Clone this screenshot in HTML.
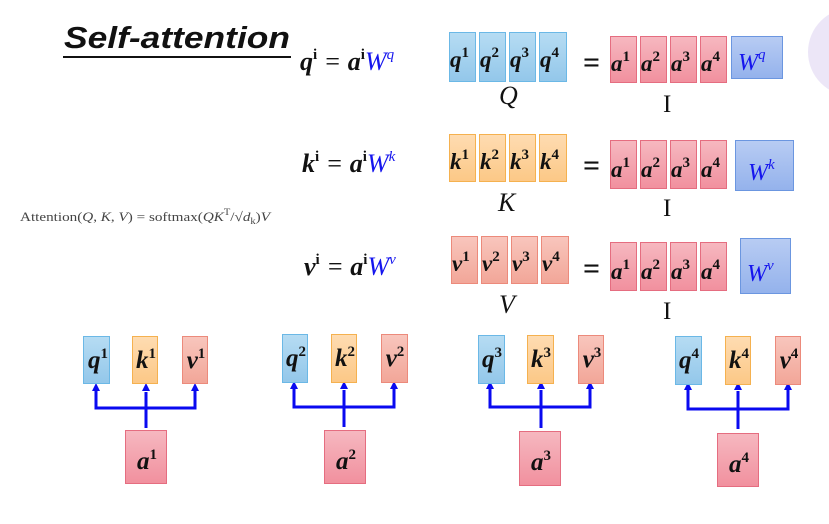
<!DOCTYPE html>
<html><head><meta charset="utf-8"><style>
body{margin:0;background:#fff;width:829px;height:519px;overflow:hidden}
svg text{font-family:"Liberation Serif",serif}
.b{font-style:italic;font-weight:bold;font-size:23px;fill:#111}
.sup{font-size:15px;font-weight:bold;font-style:normal}
.eq{font-size:26px;fill:#111;font-style:italic}
.w{font-style:italic;font-weight:normal;fill:#1515ee}
.lab{font-style:italic;font-size:26px;fill:#111}
.c{text-anchor:middle;font-size:25px}
</style></head><body>
<svg width="829" height="519" xmlns="http://www.w3.org/2000/svg">
<defs>
<linearGradient id="gq" x1="0" y1="0" x2="0" y2="1"><stop offset="0" stop-color="#b6dcf3"/><stop offset="1" stop-color="#93c7ea"/></linearGradient>
<linearGradient id="gk" x1="0" y1="0" x2="0" y2="1"><stop offset="0" stop-color="#fedcb2"/><stop offset="1" stop-color="#fcc886"/></linearGradient>
<linearGradient id="gv" x1="0" y1="0" x2="0" y2="1"><stop offset="0" stop-color="#f8c6bd"/><stop offset="1" stop-color="#f2a698"/></linearGradient>
<linearGradient id="ga" x1="0" y1="0" x2="0" y2="1"><stop offset="0" stop-color="#f6b8c0"/><stop offset="1" stop-color="#f1909e"/></linearGradient>
<linearGradient id="gw" x1="0" y1="0" x2="0" y2="1"><stop offset="0" stop-color="#b8ccf3"/><stop offset="1" stop-color="#94b2ec"/></linearGradient>
</defs>
<circle cx="852" cy="52" r="44" fill="#ece6f7"/>
<text x="64" y="48" font-weight="bold" font-style="italic" font-size="31" fill="#111" style="font-family:'Liberation Sans',sans-serif" textLength="226" lengthAdjust="spacingAndGlyphs">Self-attention</text>
<rect x="63" y="56" width="228" height="2" fill="#111"/>
<text x="20" y="221" font-size="13" fill="#444" textLength="250" lengthAdjust="spacingAndGlyphs">Attention(<tspan font-style="italic">Q</tspan>, <tspan font-style="italic">K</tspan>, <tspan font-style="italic">V</tspan>) = softmax(<tspan font-style="italic">QK</tspan><tspan font-size="9" dy="-6">T</tspan><tspan dy="6">/√</tspan><tspan font-style="italic">d</tspan><tspan font-size="9" dy="3">k</tspan><tspan dy="-3">)</tspan><tspan font-style="italic">V</tspan></text>

<text x="300" y="70" class="eq"><tspan font-weight="bold">q</tspan><tspan class="sup" dy="-11">i</tspan><tspan dy="11"> = </tspan><tspan font-weight="bold">a</tspan><tspan class="sup" dy="-11">i</tspan><tspan dy="11" class="w">W</tspan><tspan dy="-11" font-size="15" class="w">q</tspan></text>
<text x="302" y="172" class="eq"><tspan font-weight="bold">k</tspan><tspan class="sup" dy="-11">i</tspan><tspan dy="11"> = </tspan><tspan font-weight="bold">a</tspan><tspan class="sup" dy="-11">i</tspan><tspan dy="11" class="w">W</tspan><tspan dy="-11" font-size="15" class="w">k</tspan></text>
<text x="304" y="275" class="eq"><tspan font-weight="bold">v</tspan><tspan class="sup" dy="-11">i</tspan><tspan dy="11"> = </tspan><tspan font-weight="bold">a</tspan><tspan class="sup" dy="-11">i</tspan><tspan dy="11" class="w">W</tspan><tspan dy="-11" font-size="15" class="w">v</tspan></text>

<g stroke="#6bb8e6" stroke-width="1" fill="url(#gq)">
<rect x="449.5" y="32.5" width="26" height="49"/><rect x="479.5" y="32.5" width="26" height="49"/><rect x="509.5" y="32.5" width="26" height="49"/><rect x="539.5" y="32.5" width="27" height="49"/></g>
<text class="b" y="67"><tspan x="450">q</tspan><tspan class="sup" dy="-10">1</tspan><tspan x="480" dy="10">q</tspan><tspan class="sup" dy="-10">2</tspan><tspan x="510" dy="10">q</tspan><tspan class="sup" dy="-10">3</tspan><tspan x="540" dy="10">q</tspan><tspan class="sup" dy="-10">4</tspan></text>
<text x="583" y="72" font-size="30" font-weight="bold" fill="#111">=</text>
<g stroke="#e56d80" fill="url(#ga)">
<rect x="610.5" y="36.5" width="26" height="46"/><rect x="640.5" y="36.5" width="26" height="46"/><rect x="670.5" y="36.5" width="26" height="46"/><rect x="700.5" y="36.5" width="26" height="46"/></g>
<text class="b" y="71"><tspan x="611">a</tspan><tspan class="sup" dy="-10">1</tspan><tspan x="641" dy="10">a</tspan><tspan class="sup" dy="-10">2</tspan><tspan x="671" dy="10">a</tspan><tspan class="sup" dy="-10">3</tspan><tspan x="701" dy="10">a</tspan><tspan class="sup" dy="-10">4</tspan></text>
<rect x="731.5" y="36.5" width="51" height="42" fill="url(#gw)" stroke="#6b96e0"/>
<text x="738" y="70" class="w" font-size="24">W<tspan font-size="15" dy="-11">q</tspan></text>
<text x="499" y="104" class="lab">Q</text>
<text x="663" y="112" font-size="25" fill="#111">I</text>

<g stroke="#f5b14f" fill="url(#gk)">
<rect x="449.5" y="134.5" width="26" height="47"/><rect x="479.5" y="134.5" width="26" height="47"/><rect x="509.5" y="134.5" width="26" height="47"/><rect x="539.5" y="134.5" width="27" height="47"/></g>
<text class="b" y="169"><tspan x="450">k</tspan><tspan class="sup" dy="-10">1</tspan><tspan x="480" dy="10">k</tspan><tspan class="sup" dy="-10">2</tspan><tspan x="510" dy="10">k</tspan><tspan class="sup" dy="-10">3</tspan><tspan x="540" dy="10">k</tspan><tspan class="sup" dy="-10">4</tspan></text>
<text x="583" y="175" font-size="30" font-weight="bold" fill="#111">=</text>
<g stroke="#e56d80" fill="url(#ga)">
<rect x="610.5" y="140.5" width="26" height="48"/><rect x="640.5" y="140.5" width="26" height="48"/><rect x="670.5" y="140.5" width="26" height="48"/><rect x="700.5" y="140.5" width="26" height="48"/></g>
<text class="b" y="177"><tspan x="611">a</tspan><tspan class="sup" dy="-10">1</tspan><tspan x="641" dy="10">a</tspan><tspan class="sup" dy="-10">2</tspan><tspan x="671" dy="10">a</tspan><tspan class="sup" dy="-10">3</tspan><tspan x="701" dy="10">a</tspan><tspan class="sup" dy="-10">4</tspan></text>
<rect x="735.5" y="140.5" width="58" height="50" fill="url(#gw)" stroke="#6b96e0"/>
<text x="748" y="180" class="w" font-size="24">W<tspan font-size="15" dy="-11">k</tspan></text>
<text x="498" y="211" class="lab">K</text>
<text x="663" y="216" font-size="25" fill="#111">I</text>

<g stroke="#ec8a7b" fill="url(#gv)">
<rect x="451.5" y="236.5" width="26" height="47"/><rect x="481.5" y="236.5" width="26" height="47"/><rect x="511.5" y="236.5" width="26" height="47"/><rect x="541.5" y="236.5" width="27" height="47"/></g>
<text class="b" y="271"><tspan x="452">v</tspan><tspan class="sup" dy="-10">1</tspan><tspan x="482" dy="10">v</tspan><tspan class="sup" dy="-10">2</tspan><tspan x="512" dy="10">v</tspan><tspan class="sup" dy="-10">3</tspan><tspan x="542" dy="10">v</tspan><tspan class="sup" dy="-10">4</tspan></text>
<text x="583" y="278" font-size="30" font-weight="bold" fill="#111">=</text>
<g stroke="#e56d80" fill="url(#ga)">
<rect x="610.5" y="242.5" width="26" height="48"/><rect x="640.5" y="242.5" width="26" height="48"/><rect x="670.5" y="242.5" width="26" height="48"/><rect x="700.5" y="242.5" width="26" height="48"/></g>
<text class="b" y="279"><tspan x="611">a</tspan><tspan class="sup" dy="-10">1</tspan><tspan x="641" dy="10">a</tspan><tspan class="sup" dy="-10">2</tspan><tspan x="671" dy="10">a</tspan><tspan class="sup" dy="-10">3</tspan><tspan x="701" dy="10">a</tspan><tspan class="sup" dy="-10">4</tspan></text>
<rect x="740.5" y="238.5" width="50" height="55" fill="url(#gw)" stroke="#6b96e0"/>
<text x="747" y="281" class="w" font-size="24">W<tspan font-size="15" dy="-11">v</tspan></text>
<text x="499" y="313" class="lab">V</text>
<text x="663" y="319" font-size="25" fill="#111">I</text>

<g stroke="#0a0af0" stroke-width="3" fill="none">
<path d="M96,389 V408 H195 V389 M146,392 V428"/>
<path d="M294,387 V407 H394 V387 M344,390 V427"/>
<path d="M490,387 V407 H590 V387 M541,390 V428"/>
<path d="M688,388 V409 H788 V388 M738,391 V429"/>
</g>
<g fill="#0a0af0">
<path d="M92,391 L96,383 L100,391z"/><path d="M142,391 L146,383 L150,391z"/><path d="M191,391 L195,383 L199,391z"/>
<path d="M290,389 L294,381 L298,389z"/><path d="M340,389 L344,381 L348,389z"/><path d="M390,389 L394,381 L398,389z"/>
<path d="M486,389 L490,381 L494,389z"/><path d="M537,389 L541,381 L545,389z"/><path d="M586,389 L590,381 L594,389z"/>
<path d="M684,390 L688,382 L692,390z"/><path d="M734,390 L738,382 L742,390z"/><path d="M784,390 L788,382 L792,390z"/>
</g>
<g stroke-width="1">
<rect x="83.5" y="336.5" width="26" height="47" fill="url(#gq)" stroke="#6bb8e6"/>
<rect x="132.5" y="336.5" width="25" height="47" fill="url(#gk)" stroke="#f5b14f"/>
<rect x="182.5" y="336.5" width="25" height="47" fill="url(#gv)" stroke="#ec8a7b"/>
<rect x="125.5" y="430.5" width="41" height="53" fill="url(#ga)" stroke="#e56d80"/>
<rect x="282.5" y="334.5" width="25" height="48" fill="url(#gq)" stroke="#6bb8e6"/>
<rect x="331.5" y="334.5" width="25" height="48" fill="url(#gk)" stroke="#f5b14f"/>
<rect x="381.5" y="334.5" width="26" height="48" fill="url(#gv)" stroke="#ec8a7b"/>
<rect x="324.5" y="430.5" width="41" height="53" fill="url(#ga)" stroke="#e56d80"/>
<rect x="478.5" y="335.5" width="26" height="48" fill="url(#gq)" stroke="#6bb8e6"/>
<rect x="527.5" y="335.5" width="26" height="48" fill="url(#gk)" stroke="#f5b14f"/>
<rect x="578.5" y="335.5" width="25" height="48" fill="url(#gv)" stroke="#ec8a7b"/>
<rect x="519.5" y="431.5" width="41" height="54" fill="url(#ga)" stroke="#e56d80"/>
<rect x="675.5" y="336.5" width="26" height="48" fill="url(#gq)" stroke="#6bb8e6"/>
<rect x="725.5" y="336.5" width="25" height="48" fill="url(#gk)" stroke="#f5b14f"/>
<rect x="775.5" y="336.5" width="25" height="48" fill="url(#gv)" stroke="#ec8a7b"/>
<rect x="717.5" y="433.5" width="41" height="53" fill="url(#ga)" stroke="#e56d80"/>
</g>
<text x="98" y="368" class="b c">q<tspan class="sup" dy="-10" font-size="16">1</tspan></text>
<text x="146" y="368" class="b c">k<tspan class="sup" dy="-10" font-size="16">1</tspan></text>
<text x="196" y="368" class="b c">v<tspan class="sup" dy="-10" font-size="16">1</tspan></text>
<text x="147" y="469" class="b c">a<tspan class="sup" dy="-10" font-size="16">1</tspan></text>
<text x="296" y="366" class="b c">q<tspan class="sup" dy="-10" font-size="16">2</tspan></text>
<text x="345" y="366" class="b c">k<tspan class="sup" dy="-10" font-size="16">2</tspan></text>
<text x="395" y="366" class="b c">v<tspan class="sup" dy="-10" font-size="16">2</tspan></text>
<text x="346" y="469" class="b c">a<tspan class="sup" dy="-10" font-size="16">2</tspan></text>
<text x="492" y="367" class="b c">q<tspan class="sup" dy="-10" font-size="16">3</tspan></text>
<text x="541" y="367" class="b c">k<tspan class="sup" dy="-10" font-size="16">3</tspan></text>
<text x="592" y="367" class="b c">v<tspan class="sup" dy="-10" font-size="16">3</tspan></text>
<text x="541" y="470" class="b c">a<tspan class="sup" dy="-10" font-size="16">3</tspan></text>
<text x="689" y="368" class="b c">q<tspan class="sup" dy="-10" font-size="16">4</tspan></text>
<text x="739" y="368" class="b c">k<tspan class="sup" dy="-10" font-size="16">4</tspan></text>
<text x="789" y="368" class="b c">v<tspan class="sup" dy="-10" font-size="16">4</tspan></text>
<text x="739" y="472" class="b c">a<tspan class="sup" dy="-10" font-size="16">4</tspan></text>
</svg>
</body></html>
